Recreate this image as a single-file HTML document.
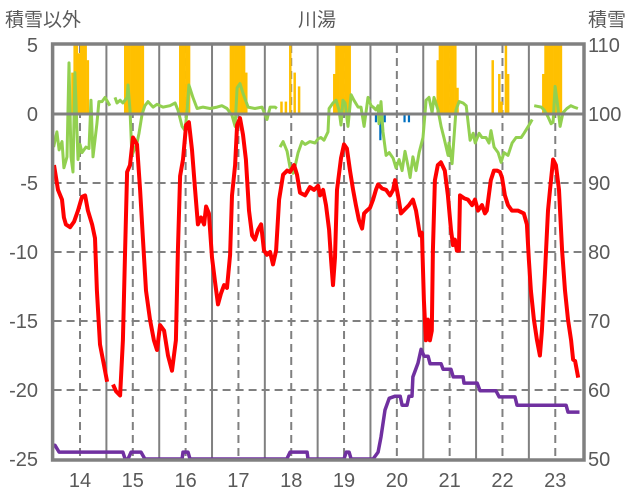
<!DOCTYPE html>
<html><head><meta charset="utf-8"><style>
html,body{margin:0;padding:0;background:#fff;}
svg{display:block;font-family:"Liberation Sans","Noto Sans CJK JP",sans-serif;}
</style></head><body>
<svg id="chart" width="636" height="501" viewBox="0 0 636 501" xmlns="http://www.w3.org/2000/svg">
<g id="grid"></g>
<g id="bars"></g>
<g id="lines"></g>
<g id="frame"></g>
<g id="labels"></g>
<text x="5" y="26" font-size="19" fill="#595959">積雪以外</text>
<text x="317" y="26" font-size="19" fill="#595959" text-anchor="middle">川湯</text>
<text x="588" y="26" font-size="19" fill="#595959">積雪</text>
</svg>
<script>
// hours from plot start (x-axis), left axis values
const dayLabels = ["14","15","16","17","18","19","20","21","22","23"];
const leftTicks = [5,0,-5,-10,-15,-20,-25];
const rightTicks = [110,100,90,80,70,60,50];
const tempHours = [0.2,2,3.8,4.7,5.6,7.5,9.3,11.1,12.9,14.3,15.6,17.5,18.8,19.7,21.1,22.9,24.3,null,27,28.4,30.2,31.5,32.5,33.4,34.7,36.1,37.9,39.3,40.6,42,43.8,45.6,47,48.4,50.2,52,53.8,55.6,56.5,57.5,58.8,60.2,61.5,62.9,64.3,65.6,67,68.4,69.3,70.6,72,73.4,74.7,76.1,77.5,78.8,80.2,81.1,82.5,83.4,84.7,86.1,87.4,88.8,90.2,91.5,92.9,94.3,95.6,97,98.4,99.7,101.1,102.5,104.3,106.1,107.4,109.3,110.6,112,114.3,116.5,118.4,120.2,121.1,122.5,123.8,125.2,126.1,127,127.9,128.8,130.6,132,133.3,134.7,136.1,137.4,138.8,140.2,141.1,142.4,143.8,145.2,146.5,147.5,149.3,151.1,152.9,154.3,155.2,156.5,157.9,159.7,161.5,163.3,164.7,166.5,167.4,168.3,169.2,170.1,171,171.9,172.4,173.3,174.6,176,177.8,179.2,180.6,181.5,182.4,183.3,184.2,184.7,186.5,188.3,190.2,191.5,192.9,194.7,196,196.9,197.8,198.7,200.1,201.5,202.9,203.8,205.1,206.5,208.3,211,213.7,215.1,216,216.9,218.3,219.7,221,221.9,223.3,224.7,225.6,227,228.3,229.7,231.1,232.4,233.8,235.2,236.1,237,238.4];
const tempValues = [-3.7,-5.5,-6.2,-7.5,-8,-8.2,-7.8,-7,-6,-5.9,-7,-8,-9,-12.8,-16.7,-18.2,-19.4,null,-19.6,-20.1,-20.4,-16.4,-9.9,-4.2,-3.7,-1.7,-2.2,-5.5,-9,-12.8,-14.9,-16.4,-17.1,-15.3,-15.7,-17.5,-18.6,-16.4,-9.9,-4.5,-3.3,-0.8,-0.6,-2.6,-5.5,-8,-7.5,-8,-6.7,-7.2,-10.4,-12.2,-13.8,-13,-12.4,-12.6,-10.2,-5.9,-3.7,-0.8,-0.3,-1.5,-3.3,-7,-8.8,-9.1,-8.4,-8,-9.9,-10.2,-10,-10.9,-9.9,-6.2,-4.4,-4.1,-4.2,-3.7,-4.4,-5.7,-5.9,-5.3,-5.5,-5.2,-5.9,-5.5,-6.6,-8.4,-10.6,-12.4,-10.4,-5.5,-3.2,-2.2,-2.5,-4.1,-5.5,-6.6,-7.7,-8.3,-7.2,-7,-6.8,-6.2,-5.5,-5.1,-5.4,-5.5,-5.9,-5.5,-4.8,-5.9,-7.2,-6.9,-6.6,-6.2,-7,-8.8,-8.6,-13.5,-16.4,-14.9,-16.4,-15.7,-9.9,-4.8,-3.7,-3.5,-4.1,-5.9,-8.4,-9.5,-9.1,-9.9,-9.9,-5.9,-6.1,-6.2,-6.6,-6.2,-7,-6.6,-7.2,-7,-5.9,-4.8,-4.1,-4.1,-4.2,-4.6,-5.9,-6.6,-7,-7,-7.2,-8,-10.6,-12.8,-14.9,-16.4,-17.5,-15.7,-11.6,-7,-5.5,-3.3,-3.7,-5.5,-9.9,-12.8,-14.9,-16.4,-17.8,-17.9,-19.1];
const otherHours = [0,1.5,2.5,3.8,4.7,6.1,7,7.9,8.8,9.7,11.1,12,12.9,14.7,16.1,17,17.9,19.7,20.6,22,23.4,25.6,null,27.9,28.8,30.2,31.5,33.4,33.8,34.7,35.6,37.9,38.8,40.2,41.5,42.9,45.2,47,49.7,52.9,55.2,56.5,58.4,59.7,60.6,61.5,63.3,65.2,67.9,71.1,74.3,76.5,78.8,81.1,82.5,83.4,84.7,86.1,88.4,91.5,94.7,97,98.4,100.6,101.5,null,102.9,104.3,106.1,107.5,108.8,109.7,111.1,112.9,114.3,116.5,118.8,120.2,121.5,122.9,124.7,125.2,127,128.4,129.7,130.6,131.5,132.5,133.8,135.2,136.5,138.4,139.7,141.1,142.9,144.3,145.2,146.5,147.5,147.9,148.8,149.7,151.1,152.5,154.3,155.6,157,158.4,159.7,161.1,162,163.3,164.7,166.1,167.9,169.3,170.6,172,172.9,174.7,176.1,177.5,179.3,179.7,181.1,182.9,184.3,186.1,187.5,189.3,190.7,191.6,193.4,194.7,196.5,197.9,198.8,200.2,202,203.4,204.7,206.5,208.4,210.2,212.5,213.8,216.1,217.5,null,218.4,221.6,222.9,224.7,226.1,227,227.9,229.2,230.2,231.5,233.3,235.1,236.5,238.3];
const otherValues = [-2.4,-1.3,-2.6,-2,-3.9,-3.1,3.7,-3.1,-4.2,3.0,-3.3,-2.2,-2.8,-2.4,-2.5,1,-3.1,-0.7,0.9,0.9,1.2,0.6,null,1.2,0.8,1,0.8,1.2,2.1,0.3,-3,-2.1,-1.4,0,0.6,0.9,0.5,0.7,0.5,0.6,0.8,0.3,-0.9,-1.2,0.1,2.1,1.2,0.4,0.5,0.4,0.5,0.6,0.4,-0.1,-0.9,1.9,2.2,1.5,0.5,0.4,0.5,-0.4,0.5,0.5,0.4,null,-2.4,-2,-2.7,-3.9,-4.3,-3.8,-2.8,-2,-2.2,-2,-2.1,-1.8,-1.7,-1.9,-1.3,0.4,0.8,1,0.3,-0.8,1,0.8,-0.9,1.4,1,0.5,0.5,-0.9,1.2,0.6,0.5,0.3,0.6,-0.7,0.9,-1.3,-3,-2.8,-3.2,-3.9,-3.3,-4.1,-2.7,-3.8,-4.6,-3.1,-4.1,-2.8,-1.7,1,1.2,0.1,1.2,0.3,-0.9,-1.8,-3,-2.1,-3.6,0.3,0.9,0.8,0.6,-1.9,-1.4,-2.1,-1.4,-1.7,-1.7,-2.1,-1.2,-2.4,-2.8,-3.5,-2.8,-3,-2.1,-1.7,-1.7,-1.4,-0.8,-0.4,null,0.6,0.5,0.3,-0.2,-0.7,-0.6,2,0.5,-0.9,0.1,0.4,0.6,0.5,0.4];
const snowHours = [0,0.6,2.5,27,28.8,31.5,32.5,33.8,35.2,39.7,41.5,58.4,58.8,61.1,62,106,107.5,115.2,115.6,132,133,134.3,135.2,145.2,147.5,148.8,150.6,152.5,155.2,157.5,158.4,160.6,161.5,162.9,163.3,165.6,167,168.4,170.2,171.1,176.1,177,180.6,181.6,186.1,186.5,192.5,193.8,201,202.5,209.7,210.6,232.9,233.8,239];
const snowValues = [52,52,51,51,51,51,50,50,51,51,50,50,51,51,50,50,51,51,50,50,51,51,50,50,51,53.2,57.1,58.8,59.1,59.1,57.8,57.8,59.1,59.1,61.9,63.9,65.9,64.9,64.9,63.8,63.8,63,63,61.9,61.9,61,61,59.9,59.9,59,59,57.8,57.8,56.8,56.8];
const barHours = [8,9,10,11,12,13,14,15,32,33,34,35,36,37,38,39,40,57,58,59,60,61,80,81,82,83,84,85,86,87,103,105,107,109,111,127,128,129,130,131,132,133,134,146,148,150,159,161,174,175,176,177,178,179,180,181,182,183,199,202,203,205,206,222,223,224,225,226,227,228,229,230];
const barValues = [3,6,6,4.4,6,6,6,3.9,6,6,6,6,6,6,6,6,6,6,6,6,6,6,6,6,6,6,6,6,6,3,0.9,0.9,6,3,2,2.9,6,6,6,6,6,6,6,-0.6,-1.9,-0.6,-0.6,-0.6,3.9,6,6,6,6,6,6,6,6,1.9,3.9,2.9,0.9,6,2.9,2.9,6,6,6,6,6,6,6,6];

const NS="http://www.w3.org/2000/svg";
const L=53.6, R=583, T=45, B=459, HMAX=240.6;
const xS=h=>L+h*(R-L)/HMAX;
const yL=v=>B-(v+25)*(B-T)/30;
const yR=v=>B-(v-50)*(B-T)/60;
function mk(tag,attrs,parent){const e=document.createElementNS(NS,tag);for(const k in attrs)e.setAttribute(k,attrs[k]);parent.appendChild(e);return e;}
const grid=document.getElementById('grid'),bars=document.getElementById('bars'),lines=document.getElementById('lines'),frame=document.getElementById('frame'),labels=document.getElementById('labels');

leftTicks.forEach(v=>{
  if(v===5||v===-25||v===0)return;
  const l=mk('line',{x1:L,x2:R,y1:yL(v),y2:yL(v),stroke:'#808080','stroke-width':2,'stroke-dasharray':'8,5'},grid);
  
  
});
for(let d=1;d<=9;d++){
  const l=mk('line',{x1:xS(d*24),x2:xS(d*24),y1:T,y2:B,stroke:'#808080','stroke-width':2},grid);
  
  
}
dayLabels.forEach((s,i)=>{
  const x=xS(12+24*i);
  const l=mk('line',{x1:x,x2:x,y1:T,y2:B,stroke:'#808080','stroke-width':2,'stroke-dasharray':'8,5'},grid);
  
  
  const t=mk('text',{x:x,y:487,'font-size':20,fill:'#595959','text-anchor':'middle'},labels);
  t.textContent=s;
  
  
});

barHours.forEach((h,i)=>{
  const v=barValues[i];
  const top=Math.max(T,yL(Math.max(v,0))), bot=yL(Math.min(v,0));
  const r=mk('rect',{x:xS(h),y:top,width:(v<0?2.2:xS(h+1)-xS(h)+0.3),height:Math.max(0,bot-top),fill:v<0?'#0070C0':'#FFC000'},bars);
  
  
});

function path(hs,vs,ys){let d='',pen=false;hs.forEach((h,i)=>{if(h===null||vs[i]===null){pen=false;return;}d+=(pen?'L':'M')+xS(h).toFixed(1)+','+ys(vs[i]).toFixed(1);pen=true;});return d;}
const g1=mk('path',{d:path(otherHours,otherValues,yL),fill:'none',stroke:'#92D050','stroke-width':3,'stroke-linejoin':'round'},lines);


const r1=mk('path',{d:path(tempHours,tempValues,yL),fill:'none',stroke:'#FF0000','stroke-width':4,'stroke-linejoin':'round'},lines);


const p1=mk('path',{d:path(snowHours,snowValues,yR),fill:'none',stroke:'#7030A0','stroke-width':3.5,'stroke-linejoin':'round'},lines);



const z=mk('line',{x1:L,x2:R,y1:yL(0),y2:yL(0),stroke:'#808080','stroke-width':3},frame);


const fr=mk('rect',{x:L-1,y:T-1,width:R-L+2,height:B-T+2,fill:'none',stroke:'#808080','stroke-width':3.5},frame);



leftTicks.forEach(v=>{
  const t=mk('text',{x:38,y:yL(v)+7,'font-size':20,fill:'#595959','text-anchor':'end'},labels);
  t.textContent=String(v);
  
  
});
rightTicks.forEach(v=>{
  const t=mk('text',{x:588,y:yR(v)+7,'font-size':20,fill:'#595959'},labels);
  t.textContent=String(v);
  
  
});
</script>
</body></html>
